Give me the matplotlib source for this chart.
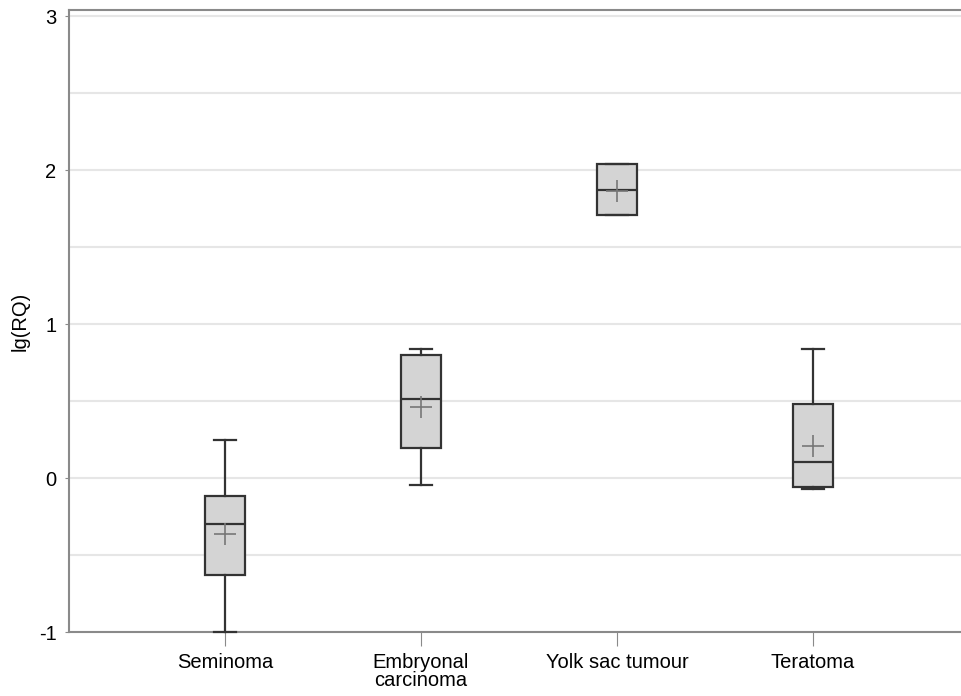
import matplotlib.pyplot as plt

plt.rcParams['font.family'] = ['Liberation Sans', 'DejaVu Sans']

groups = ['Seminoma', 'Embryonal\ncarcinoma', 'Yolk sac tumour', 'Teratoma']
whislo = [-1.00, -0.045, 1.708, -0.07]
q1 = [-0.63, 0.195, 1.708, -0.058]
med = [-0.30, 0.513, 1.87, 0.104]
q3 = [-0.117, 0.80, 2.04, 0.48]
whishi = [0.247, 0.838, 2.04, 0.838]
means = [-0.364, 0.461, 1.866, 0.208]

stats = []
for i in range(len(groups)):
    stats.append(dict(label=groups[i], whislo=whislo[i], q1=q1[i], med=med[i],
                      q3=q3[i], whishi=whishi[i], mean=means[i], fliers=[]))

fig = plt.figure(figsize=(9.61, 6.96), dpi=100)
ax = fig.add_axes([69 / 961, 1 - 632 / 696, 1 - 69 / 961, 622 / 696])

edge = '#333333'
parts = ax.bxp(stats, positions=[1, 2, 3, 4], widths=0.204, capwidths=0.11,
               patch_artist=True, showmeans=True, showfliers=False,
               boxprops=dict(facecolor='#d4d4d4', edgecolor=edge, linewidth=1.6),
               medianprops=dict(color=edge, linewidth=1.6),
               whiskerprops=dict(color=edge, linewidth=1.6),
               capprops=dict(color=edge, linewidth=1.6),
               meanprops=dict(marker='+', markersize=16, markeredgecolor='#777777',
                              markeredgewidth=1.2))
for c in parts['caps'] + parts['whiskers']:
    c.set_clip_on(False)
    c.set_zorder(5)

ax.set_xlim(0.204, 4.755)
ax.set_ylim(-1, 3.04)
ax.set_yticks([-1, 0, 1, 2, 3])
ax.set_yticklabels(['-1', '0', '1', '2', '3'])
ax.set_yticks([-0.5, 0.5, 1.5, 2.5], minor=True)
ax.grid(True, axis='y', which='both', color='#e6e6e6', linewidth=1.5)
ax.set_axisbelow(True)

for s in ['left', 'bottom', 'top']:
    ax.spines[s].set_color('#8a8a8a')
    ax.spines[s].set_linewidth(1.5)
ax.spines['right'].set_visible(False)

ax.tick_params(axis='both', which='major', color='#8a8a8a', labelsize=14.5)
ax.tick_params(axis='y', which='major', length=3, pad=6)
ax.tick_params(axis='y', which='minor', length=0)
ax.tick_params(axis='x', length=10, pad=5)
ax.set_ylabel('lg(RQ)', fontsize=14.5)
ax.yaxis.set_label_coords(-0.044, 0.5)
for t in ax.get_xticklabels():
    t.set_linespacing(0.95)

fig.savefig('out.png', dpi=100)
